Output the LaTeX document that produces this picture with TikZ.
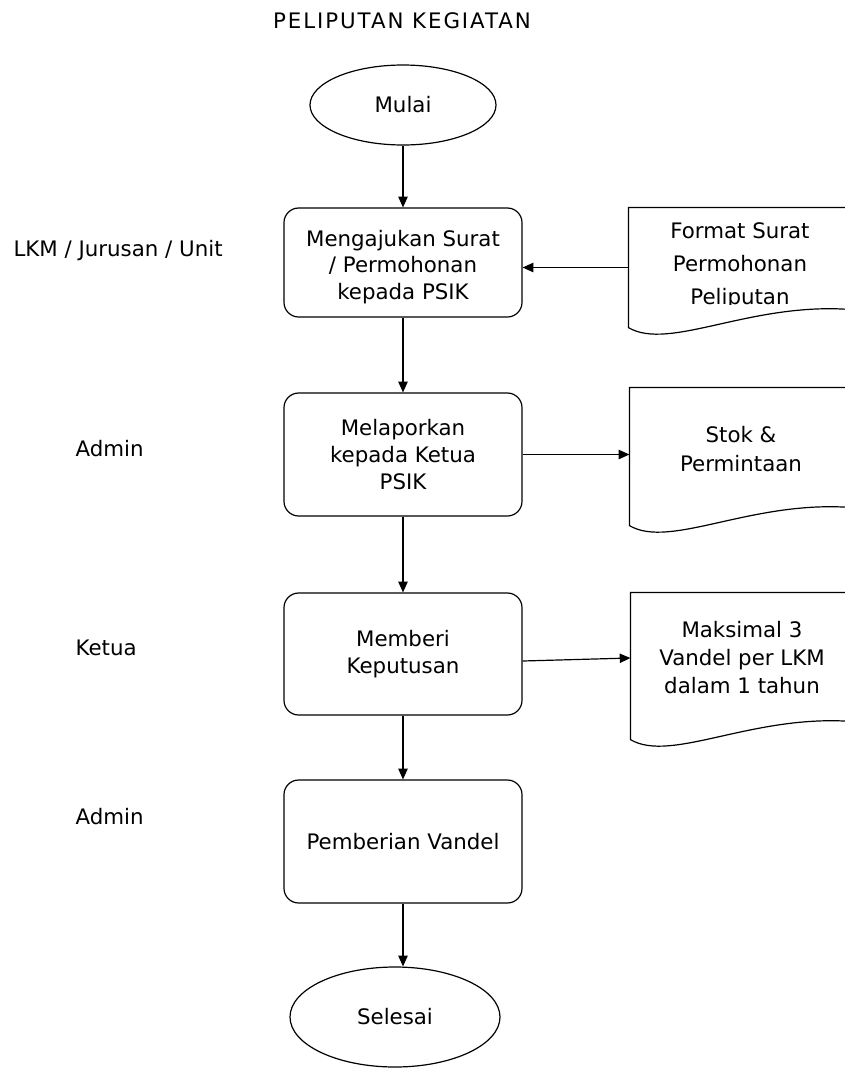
\documentclass[tikz,border=0pt]{standalone}
\usepackage{fontspec}
\setmainfont{DejaVu Sans}
\usetikzlibrary{shapes.geometric, arrows.meta}

% bentuk dokumen (bawah bergelombang)
\newcommand{\docbentuk}[1]{%
  \draw ([yshift=13.5pt]#1.south east) -- (#1.north east) -- (#1.north west) -- (#1.south west)
    .. controls ([xshift=30.75pt,yshift=-18pt]#1.south west) and ([xshift=-75.75pt,yshift=19.5pt]#1.south east)
    .. ([yshift=13.5pt]#1.south east);}

\begin{document}
\begin{tikzpicture}[x=0.75pt, y=-0.75pt, line width=0.9pt,
    >={Triangle[length=8pt,width=7pt]},
    every node/.style={font=\fontsize{16}{20}\selectfont},
    proses/.style={draw, rounded corners=11pt, minimum width=178.5pt, align=center, inner sep=0pt},
    terminal/.style={draw, ellipse, inner sep=0pt},
    dokumen/.style={minimum width=166.5pt, inner sep=0pt},
    peran/.style={anchor=west, inner sep=0pt}]
  \clip (0,0) rectangle (845,1068);

  % judul
  \node[font=\fontsize{16}{20}\selectfont\addfontfeature{LetterSpace=9}] (judul) at (402,21) {PELIPUTAN KEGIATAN};

  % pelaku
  \node[peran] (lkm) at (13,250.5) {LKM / Jurusan / Unit};
  \node[peran] (admin1) at (75,449) {Admin};
  \node[peran] (ketua) at (75,648) {Ketua};
  \node[peran] (admin2) at (75,817) {Admin};

  % alur utama
  \node[terminal, minimum width=139.5pt, minimum height=60pt] (mulai) at (403,105) {Mulai};
  \node[proses, minimum height=81.75pt] (ajukan) at (403,262.5) {};
  \begin{scope}
    \clip (284,208) rectangle (522,304);
    \node[align=center] (ajukan-t) at (403,267) {Mengajukan Surat\\/ Permohonan\\kepada PSIK};
  \end{scope}
  \node[proses, minimum height=92.25pt] (lapor) at (403,454.5) {Melaporkan\\kepada Ketua\\PSIK};
  \node[proses, minimum height=91.5pt] (putus) at (403,654) {Memberi\\Keputusan};
  \node[proses, minimum height=92.25pt] (vandel) at (403,841.5) {Pemberian Vandel};
  \node[terminal, minimum width=157.5pt, minimum height=75pt] (selesai) at (395,1017) {Selesai};

  % dokumen
  \node[dokumen, minimum height=89.25pt] (format) at (740,267.5) {};
  \docbentuk{format}
  \begin{scope}
    \clip (629,208) rectangle (845,304);
    \node[align=center, font=\fontsize{16}{24.75}\selectfont] (format-t) at (740,266) {Format Surat\\Permohonan\\Peliputan};
  \end{scope}
  \node[dokumen, minimum height=102.75pt] (stok) at (741,456.5) {};
  \docbentuk{stok}
  \node[align=center, font=\fontsize{16}{21.4}\selectfont] (stok-t) at (741,449) {Stok \&\\Permintaan};
  \node[dokumen, minimum height=109.5pt] (maks) at (742,666) {};
  \docbentuk{maks}
  \node[align=center, font=\fontsize{16}{21}\selectfont] (maks-t) at (742,658) {Maksimal 3\\Vandel per LKM\\dalam 1 tahun};

  % panah
  \draw[->] (mulai) -- (ajukan);
  \draw[->] (format.west) -- (format.west -| ajukan.east);
  \draw[->] (ajukan) -- (lapor);
  \draw[->] (lapor.east) -- (lapor.east -| stok.west);
  \draw[->] (lapor) -- (putus);
  \draw[->] ([yshift=-5.25pt]putus.east) -- ([yshift=6pt]maks.west);
  \draw[->] (putus) -- (vandel);
  \draw[->] (vandel.south) -- (vandel.south |- selesai.north);
\end{tikzpicture}
\end{document}
